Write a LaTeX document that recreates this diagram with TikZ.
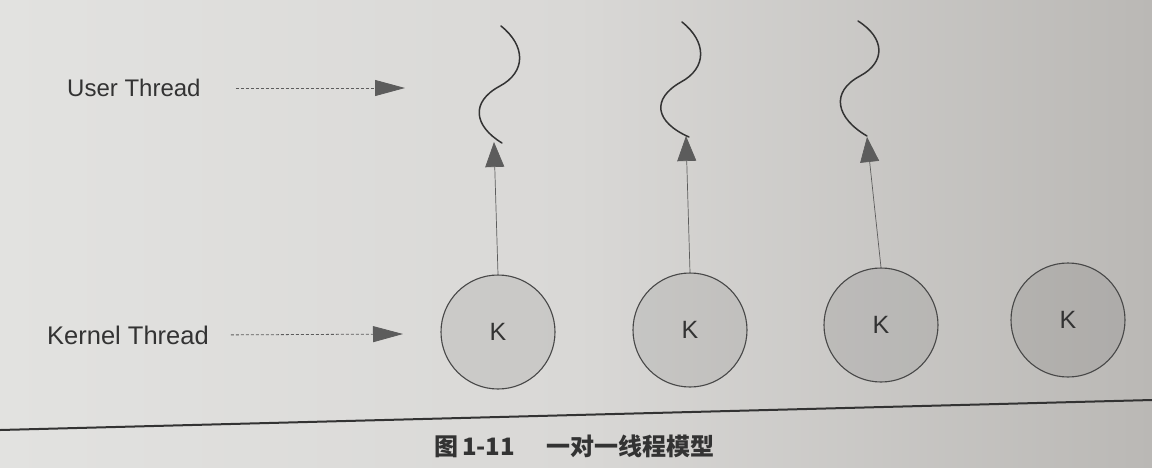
\documentclass[tikz,border=0pt]{standalone}
\usepackage{fontspec}
\setmainfont{Liberation Sans}
\newfontfamily\cjk{Noto Sans CJK SC}
\usetikzlibrary{arrows.meta}
\definecolor{bgL}{HTML}{E2E2E0}
\definecolor{bgM}{HTML}{D9D8D6}
\definecolor{bgR}{HTML}{BAB8B5}
\definecolor{ink}{HTML}{333333}
\tikzset{
  lbl/.style={font=\fontsize{24}{26}\selectfont, text=ink, inner sep=0pt},
  kcirc/.style={circle, draw=ink!90, line width=1.1pt, fill=black, fill opacity=0.07, text opacity=1, minimum size=114pt, inner sep=0pt, font=\fontsize{25}{28}\selectfont, text=ink},
  ptr/.style={draw=ink!80, line width=0.8pt, dashed, dash pattern=on 3pt off 2pt, -{Triangle[length=30pt,width=16pt]}},
  upar/.style={draw=ink!80, line width=0.7pt, -{Triangle[length=25pt,width=19pt]}},
  squig/.style={draw=ink, line width=1.5pt, line cap=round},
}
\begin{document}
\begin{tikzpicture}[x=1pt,y=-1pt]
\useasboundingbox (0,0) rectangle (1152,467);
\shade[left color=bgL, right color=bgR, middle color=bgM] (0,0) rectangle (1152,467);
% labels
\node[lbl, anchor=west] (ut) at (67,88) {User Thread};
\node[lbl, anchor=west, font=\fontsize{25.5}{28}\selectfont] (kt) at (47,335) {Kernel Thread};
\coordinate (ua) at (405,88);
\coordinate (ka) at (403,334);
\draw[ptr, shorten <=35pt] (ut.east) -- (ua);
\draw[ptr, shorten <=22pt] (kt.east) -- (ka);
% kernel circles
\node[kcirc] (k1) at (498,332) {K};
\node[kcirc] (k2) at (690,330) {K};
\node[kcirc] (k3) at (881,325) {K};
\node[kcirc] (k4) at (1068,320) {K};
% arrow tips
\coordinate (t1) at (494,142);
\coordinate (t2) at (686,136);
\coordinate (t3) at (867,137);
\draw[upar] (k1.north) -- (t1);
\draw[upar] (k2.north) -- (t2);
\draw[upar] (k3.north) -- (t3);
% squiggles
\draw[squig] (501,26) .. controls (526,46) and (526,72) .. (500,86) .. controls (470,102) and (474,126) .. (502,143);
\draw[squig] (682,22) .. controls (707,42) and (707,68) .. (681,82) .. controls (651,99) and (655,122) .. (689,137);
\draw[squig] (858,21) .. controls (885,38) and (886,62) .. (860,76) .. controls (830,92) and (836,118) .. (867,136);
% rule
\draw[line width=2pt, draw=ink] (0,430) -- (1152,400);
% caption
\node[inner sep=0pt, anchor=west, text=ink, font=\cjk\bfseries\fontsize{24}{26}\selectfont] (cap) at (434,446) {图\,1-11\hspace{1.3em}一对一线程模型};
\end{tikzpicture}
\end{document}
